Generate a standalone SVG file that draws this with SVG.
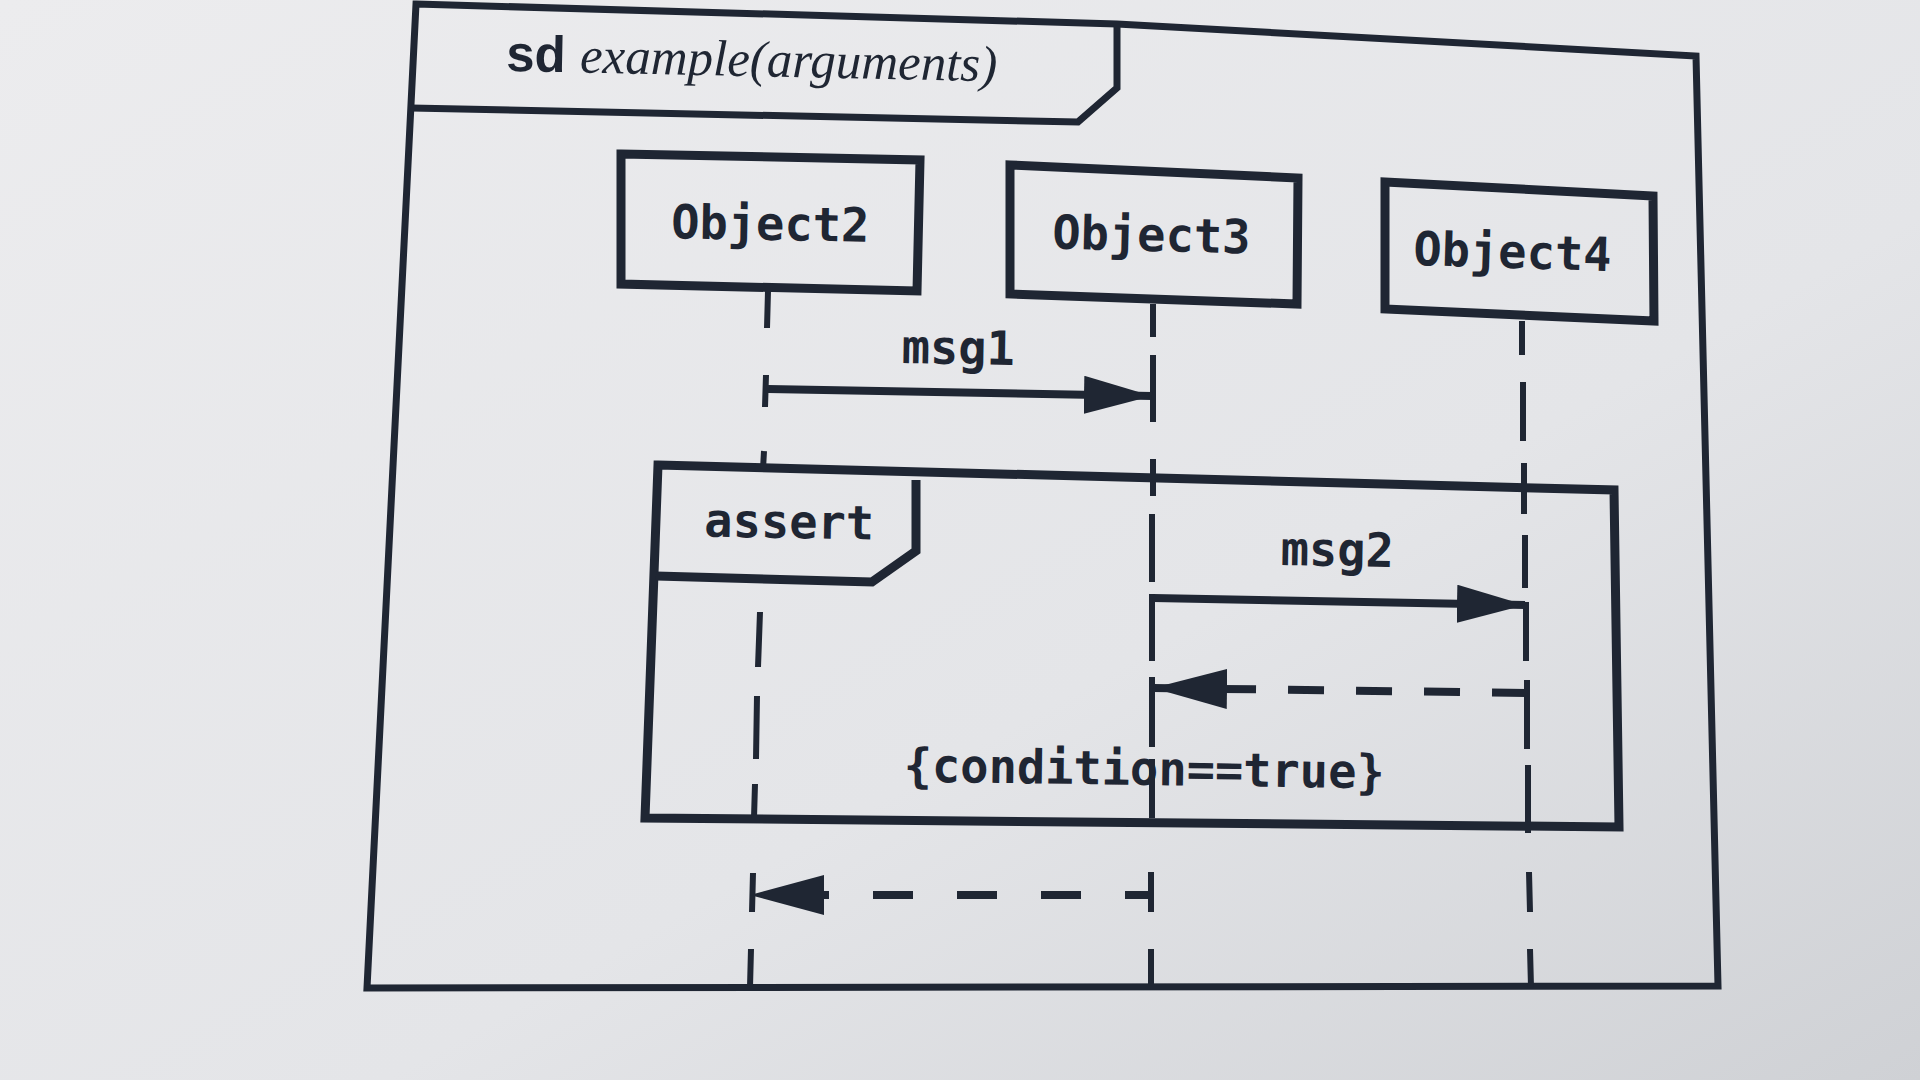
<svg xmlns="http://www.w3.org/2000/svg" width="1920" height="1080" viewBox="0 0 1920 1080">
<defs>
<linearGradient id="bg" x1="0" y1="0" x2="1" y2="1">
<stop offset="0" stop-color="#ececee"/>
<stop offset="0.6" stop-color="#e4e5e8"/>
<stop offset="1" stop-color="#cfd1d5"/>
</linearGradient>
<marker id="head" markerUnits="userSpaceOnUse" markerWidth="70" markerHeight="38" refX="68" refY="19" orient="auto">
<path d="M0,0 L68,19 L0,38 z" fill="#1f2633"/>
</marker>
<marker id="headR" markerUnits="userSpaceOnUse" markerWidth="76" markerHeight="40" refX="74" refY="20" orient="auto">
<path d="M0,0 L74,20 L0,40 z" fill="#1f2633"/>
</marker>
<style>
.ln{fill:none;stroke:#1f2633;stroke-linejoin:miter}
.frame{stroke-width:7}
.box{stroke-width:9}
.life{stroke-width:6}
.msg{stroke-width:8}
.mono{font-family:"DejaVu Sans Mono","Liberation Mono",monospace;font-size:47px;font-weight:bold;fill:#1f2633}
</style>
</defs>
<rect width="1920" height="1080" fill="url(#bg)"/>

<g id="frame">
<polygon class="ln frame" points="416,4 1117,24 1696,56 1718,986 367,988"/>
<polyline class="ln frame" points="1117,24 1117,88 1078,122 411,108"/>
<text transform="translate(506,71) rotate(1.2)" fill="#1f2633" font-size="51"><tspan font-family="Liberation Sans, Arial, sans-serif" font-weight="bold">sd </tspan><tspan font-family="Liberation Serif, Times New Roman, serif" font-style="italic">example(arguments)</tspan></text>
</g>

<g id="Object2">
<polygon class="ln box" points="621,154 920,160 917,291 621,284"/>
<text class="mono" text-anchor="middle" transform="translate(770,240) rotate(1)">Object2</text>
</g>
<g id="Object3">
<polygon class="ln box" points="1010,165 1298,178 1297,304 1010,294"/>
<text class="mono" text-anchor="middle" transform="translate(1151,251) rotate(1.5)">Object3</text>
</g>
<g id="Object4">
<polygon class="ln box" points="1385,182 1653,196 1654,321 1385,309"/>
<text class="mono" text-anchor="middle" transform="translate(1512,268) rotate(1.8)">Object4</text>
</g>

<g id="assert">
<polygon class="ln box" points="658,465 1614,490 1619,827 645,818"/>
<polyline class="ln box" points="916,480 916,551 872,582 656,576"/>
<text class="mono" text-anchor="middle" transform="translate(789,538) rotate(1)">assert</text>
<text class="mono" text-anchor="middle" transform="translate(1144,785) rotate(0.8)">{condition==true}</text>
</g>

<g id="lifelines">
<path class="ln life" d="M768,291 L767,328 M766,375 L765,407 M764,451 L763,469 M760,612 L758,667 M757,696 L756,759 M755,784 L754,818 M753,873 L752,912 M751,949 L750,987"/>
<path class="ln life" d="M1153,304 L1153,337 M1153,355 L1153,422 M1153,459 L1153,496 M1152,514 L1152,582 M1152,594 L1152,661 M1152,677 L1152,747 M1152,759 L1152,818 M1151,872 L1151,912 M1151,949 L1151,987"/>
<path class="ln life" d="M1522,321 L1522,355 M1523,382 L1523,441 M1524,463 L1524,514 M1525,535 L1525,588 M1526,602 L1526,661 M1527,680 L1527,749 M1528,765 L1528,833 M1529,872 L1530,912 M1530,949 L1531,987"/>
</g>

<g id="connectors">
<g id="msg1">
<line class="ln msg" x1="768" y1="389" x2="1152" y2="396" marker-end="url(#head)"/>
<text class="mono" text-anchor="middle" transform="translate(958,364) rotate(1)">msg1</text>
</g>
<g id="msg2">
<line class="ln msg" x1="1153" y1="598" x2="1525" y2="605" marker-end="url(#head)"/>
<text class="mono" text-anchor="middle" transform="translate(1337,566) rotate(1)">msg2</text>
</g>
<g id="reply2">
<line class="ln msg" x1="1528" y1="693" x2="1153" y2="688" stroke-dasharray="36 32" marker-end="url(#headR)"/>
</g>
<g id="reply1">
<line class="ln msg" x1="1151" y1="895" x2="750" y2="895" stroke-dasharray="40 44" stroke-dashoffset="14" marker-end="url(#headR)"/>
</g>
</g>
</svg>
